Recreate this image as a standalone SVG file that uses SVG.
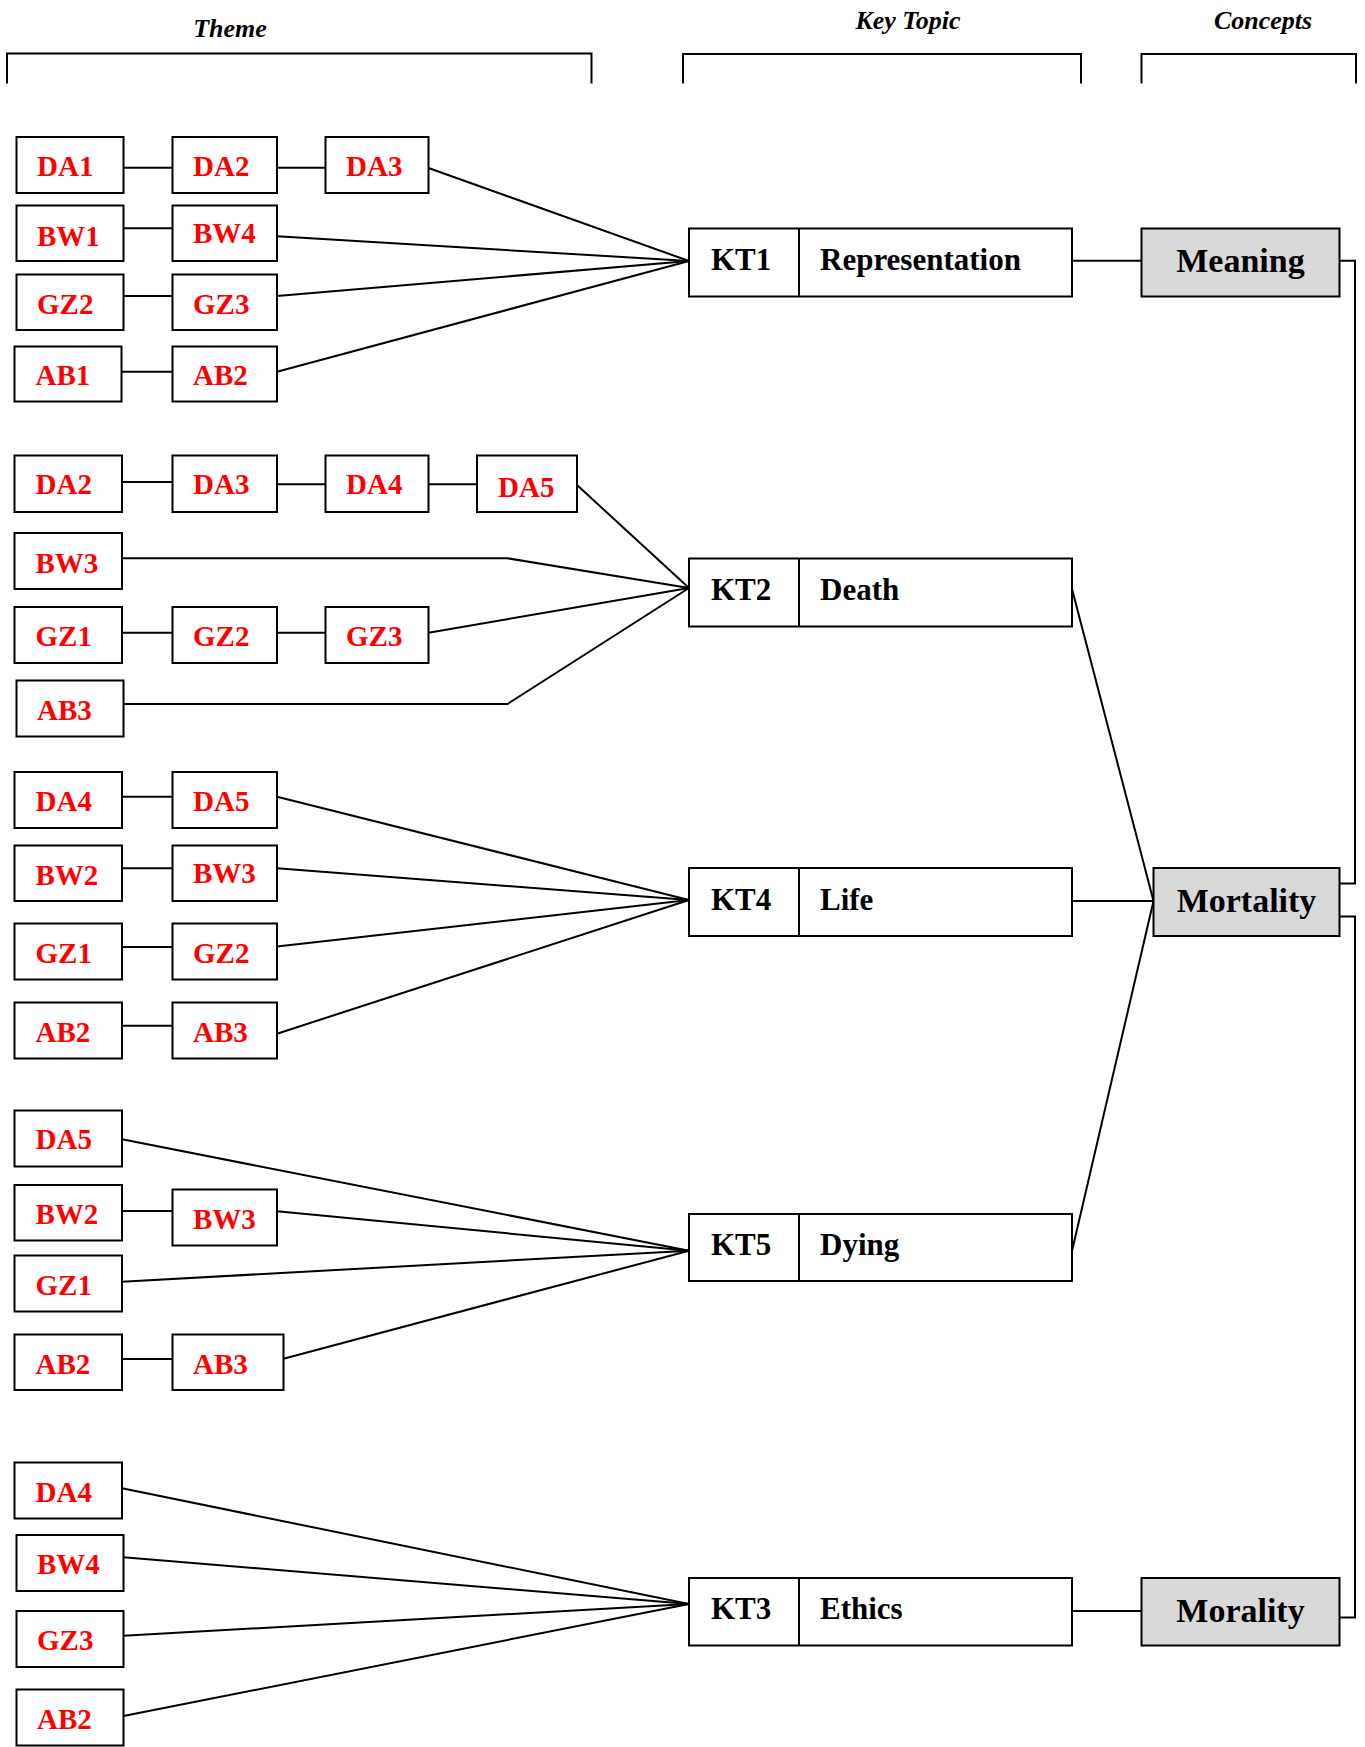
<svg xmlns="http://www.w3.org/2000/svg" width="1365" height="1747" viewBox="0 0 1365 1747">
<style>
.bg{fill:#ffffff}
.br{fill:none;stroke:#000;stroke-width:2}
.hd{font-family:"Liberation Serif","Times New Roman",serif;font-weight:bold;font-style:italic;font-size:26px;fill:#000;text-anchor:middle}
.tb rect{fill:#fff;stroke:#000;stroke-width:2}
.tb text{font-family:"Liberation Serif","Times New Roman",serif;font-weight:bold;font-size:29px;fill:#ff0000}
.kt rect{fill:#fff;stroke:#000;stroke-width:2}
.kt line{stroke:#000;stroke-width:2}
.kt text{font-family:"Liberation Serif","Times New Roman",serif;font-weight:bold;font-size:31px;fill:#000}
.cp rect{fill:#d9d9d9;stroke:#000;stroke-width:2}
.cp text{font-family:"Liberation Serif","Times New Roman",serif;font-weight:bold;font-size:34px;fill:#000;text-anchor:middle}
.cn line,.cn polyline{fill:none;stroke:#000;stroke-width:2}
</style>
<rect class="bg" x="0" y="0" width="1365" height="1747"/>

<g id="headers">
<path class="br" d="M7,83.5 V53.5 H591.5 V83.5"/>
<path class="br" d="M683,83.5 V54 H1081 V83.5"/>
<path class="br" d="M1141.5,83.5 V54 H1356 V83.5"/>
<text class="hd" x="230" y="36.5">Theme</text>
<text class="hd" x="908" y="28.5">Key Topic</text>
<text class="hd" x="1263" y="28.5">Concepts</text>
</g>

<g id="connectors" class="cn">
<!-- group KT1 -->
<line x1="123.5" y1="167.7" x2="172.5" y2="167.7"/>
<line x1="277" y1="167.7" x2="325.5" y2="167.7"/>
<line x1="428.5" y1="168" x2="689" y2="261"/>
<line x1="123.5" y1="228.3" x2="172.5" y2="228.3"/>
<line x1="277" y1="236.3" x2="689" y2="261"/>
<line x1="123.5" y1="296" x2="172.5" y2="296"/>
<line x1="277" y1="296" x2="689" y2="261"/>
<line x1="121.5" y1="371.7" x2="172.5" y2="371.7"/>
<line x1="277" y1="371.7" x2="689" y2="261"/>
<!-- group KT2 -->
<line x1="122" y1="482" x2="172.5" y2="482"/>
<line x1="277" y1="484.3" x2="325.5" y2="484.3"/>
<line x1="428.5" y1="484.3" x2="477" y2="484.3"/>
<line x1="577" y1="485" x2="689" y2="588"/>
<polyline points="122,558.3 507.5,558.3 689,588"/>
<line x1="122" y1="632.7" x2="172.5" y2="632.7"/>
<line x1="277" y1="632.7" x2="325.5" y2="632.7"/>
<line x1="428.5" y1="632.7" x2="689" y2="588"/>
<polyline points="123.5,704 507.5,704 689,588"/>
<!-- group KT4 -->
<line x1="122" y1="796.7" x2="172.5" y2="796.7"/>
<line x1="277" y1="796.7" x2="689" y2="900"/>
<line x1="122" y1="868.3" x2="172.5" y2="868.3"/>
<line x1="277" y1="868.3" x2="689" y2="900"/>
<line x1="122" y1="947" x2="172.5" y2="947"/>
<line x1="277" y1="946.5" x2="689" y2="900"/>
<line x1="122" y1="1025.7" x2="172.5" y2="1025.7"/>
<line x1="277" y1="1033.7" x2="689" y2="900"/>
<!-- group KT5 -->
<line x1="122" y1="1139.3" x2="689" y2="1250.7"/>
<line x1="122" y1="1211" x2="172.5" y2="1211"/>
<line x1="277" y1="1211.3" x2="689" y2="1250.7"/>
<line x1="122" y1="1281.7" x2="689" y2="1250.7"/>
<line x1="122" y1="1359" x2="172.5" y2="1359"/>
<line x1="283.5" y1="1358.7" x2="689" y2="1250.7"/>
<!-- group KT3 -->
<line x1="122" y1="1488.3" x2="689" y2="1604"/>
<line x1="123.5" y1="1557.3" x2="689" y2="1604"/>
<line x1="123.5" y1="1635.7" x2="689" y2="1604"/>
<line x1="123.5" y1="1716" x2="689" y2="1604"/>
<!-- key topics to concepts -->
<line x1="1072" y1="260.7" x2="1141.5" y2="260.7"/>
<line x1="1072" y1="589" x2="1153.5" y2="901"/>
<line x1="1072" y1="901" x2="1153.5" y2="901"/>
<line x1="1072" y1="1251" x2="1153.5" y2="901"/>
<line x1="1072" y1="1611" x2="1141.5" y2="1611"/>
<polyline points="1339.5,260.7 1355,260.7 1355,883.5 1339.5,883.5"/>
<polyline points="1339.5,916.5 1355,916.5 1355,1617.5 1339.5,1617.5"/>
</g>

<!-- Theme nodes: group KT1 -->
<g id="g1-DA1" class="tb"><rect x="16.5" y="137" width="107" height="56"/><text x="37" y="176">DA1</text></g>
<g id="g1-DA2" class="tb"><rect x="172.5" y="137" width="104.5" height="56"/><text x="193" y="176">DA2</text></g>
<g id="g1-DA3" class="tb"><rect x="325.5" y="137" width="103" height="56"/><text x="346" y="176">DA3</text></g>
<g id="g1-BW1" class="tb"><rect x="16.5" y="205.5" width="107" height="55.5"/><text x="37" y="246">BW1</text></g>
<g id="g1-BW4" class="tb"><rect x="172.5" y="205.5" width="104.5" height="55.5"/><text x="193" y="243">BW4</text></g>
<g id="g1-GZ2" class="tb"><rect x="16.5" y="274.5" width="107" height="55.5"/><text x="37" y="313.5">GZ2</text></g>
<g id="g1-GZ3" class="tb"><rect x="172.5" y="274.5" width="104.5" height="55.5"/><text x="193" y="313.5">GZ3</text></g>
<g id="g1-AB1" class="tb"><rect x="14.5" y="346.5" width="107" height="55"/><text x="35.5" y="385">AB1</text></g>
<g id="g1-AB2" class="tb"><rect x="172.5" y="346.5" width="104.5" height="55"/><text x="193" y="385">AB2</text></g>

<!-- group KT2 -->
<g id="g2-DA2" class="tb"><rect x="14.5" y="455.5" width="107.5" height="56.5"/><text x="35.5" y="494">DA2</text></g>
<g id="g2-DA3" class="tb"><rect x="172.5" y="455.5" width="104.5" height="56.5"/><text x="193" y="494">DA3</text></g>
<g id="g2-DA4" class="tb"><rect x="325.5" y="455.5" width="103" height="56.5"/><text x="346" y="494">DA4</text></g>
<g id="g2-DA5" class="tb"><rect x="477" y="455.5" width="100" height="56.5"/><text x="498" y="497">DA5</text></g>
<g id="g2-BW3" class="tb"><rect x="14.5" y="533" width="107.5" height="56"/><text x="35.5" y="572.5">BW3</text></g>
<g id="g2-GZ1" class="tb"><rect x="14.5" y="607" width="107.5" height="56"/><text x="35.5" y="646">GZ1</text></g>
<g id="g2-GZ2" class="tb"><rect x="172.5" y="607" width="104.5" height="56"/><text x="193" y="646">GZ2</text></g>
<g id="g2-GZ3" class="tb"><rect x="325.5" y="607" width="103" height="56"/><text x="346" y="646">GZ3</text></g>
<g id="g2-AB3" class="tb"><rect x="16.5" y="680.5" width="107" height="56"/><text x="37" y="719.5">AB3</text></g>

<!-- group KT4 -->
<g id="g3-DA4" class="tb"><rect x="14.5" y="772" width="107.5" height="56"/><text x="35.5" y="810.5">DA4</text></g>
<g id="g3-DA5" class="tb"><rect x="172.5" y="772" width="104.5" height="56"/><text x="193" y="810.5">DA5</text></g>
<g id="g3-BW2" class="tb"><rect x="14.5" y="845.5" width="107.5" height="55.5"/><text x="35.5" y="885">BW2</text></g>
<g id="g3-BW3" class="tb"><rect x="172.5" y="845.5" width="104.5" height="55.5"/><text x="193" y="883">BW3</text></g>
<g id="g3-GZ1" class="tb"><rect x="14.5" y="923.5" width="107.5" height="56"/><text x="35.5" y="962.5">GZ1</text></g>
<g id="g3-GZ2" class="tb"><rect x="172.5" y="923.5" width="104.5" height="56"/><text x="193" y="962.5">GZ2</text></g>
<g id="g3-AB2" class="tb"><rect x="14.5" y="1002.5" width="107.5" height="56"/><text x="35.5" y="1041.5">AB2</text></g>
<g id="g3-AB3" class="tb"><rect x="172.5" y="1002.5" width="104.5" height="56"/><text x="193" y="1041.5">AB3</text></g>

<!-- group KT5 -->
<g id="g4-DA5" class="tb"><rect x="14.5" y="1110.5" width="107.5" height="56"/><text x="35.5" y="1149">DA5</text></g>
<g id="g4-BW2" class="tb"><rect x="14.5" y="1185" width="107.5" height="55.5"/><text x="35.5" y="1224">BW2</text></g>
<g id="g4-BW3" class="tb"><rect x="172.5" y="1189.5" width="104.5" height="56"/><text x="193" y="1228.5">BW3</text></g>
<g id="g4-GZ1" class="tb"><rect x="14.5" y="1255.5" width="107.5" height="56"/><text x="35.5" y="1294.5">GZ1</text></g>
<g id="g4-AB2" class="tb"><rect x="14.5" y="1334.5" width="107.5" height="55.5"/><text x="35.5" y="1373.5">AB2</text></g>
<g id="g4-AB3" class="tb"><rect x="172.5" y="1334.5" width="111" height="55.5"/><text x="193" y="1373.5">AB3</text></g>

<!-- group KT3 -->
<g id="g5-DA4" class="tb"><rect x="14.5" y="1462.5" width="107.5" height="56"/><text x="35.5" y="1501.5">DA4</text></g>
<g id="g5-BW4" class="tb"><rect x="16.5" y="1535" width="107" height="56"/><text x="37" y="1574">BW4</text></g>
<g id="g5-GZ3" class="tb"><rect x="16.5" y="1611" width="107" height="56"/><text x="37" y="1650">GZ3</text></g>
<g id="g5-AB2" class="tb"><rect x="16.5" y="1689.5" width="107" height="56"/><text x="37" y="1728.5">AB2</text></g>

<!-- Key topics -->
<g id="KT1" class="kt"><rect x="689" y="228.5" width="383" height="68"/><line x1="799" y1="228.5" x2="799" y2="296.5"/><text x="711" y="270">KT1</text><text x="820" y="270">Representation</text></g>
<g id="KT2" class="kt"><rect x="689" y="558.5" width="383" height="68"/><line x1="799" y1="558.5" x2="799" y2="626.5"/><text x="711" y="600">KT2</text><text x="820" y="600">Death</text></g>
<g id="KT4" class="kt"><rect x="689" y="868" width="383" height="68"/><line x1="799" y1="868" x2="799" y2="936"/><text x="711" y="909.5">KT4</text><text x="820" y="909.5">Life</text></g>
<g id="KT5" class="kt"><rect x="689" y="1214" width="383" height="67"/><line x1="799" y1="1214" x2="799" y2="1281"/><text x="711" y="1255">KT5</text><text x="820" y="1255">Dying</text></g>
<g id="KT3" class="kt"><rect x="689" y="1578" width="383" height="67.5"/><line x1="799" y1="1578" x2="799" y2="1645.5"/><text x="711" y="1619">KT3</text><text x="820" y="1619">Ethics</text></g>

<!-- Concepts -->
<g id="Meaning" class="cp"><rect x="1141.5" y="228.5" width="198" height="68"/><text x="1240.5" y="272">Meaning</text></g>
<g id="Mortality" class="cp"><rect x="1153.5" y="868" width="186" height="68"/><text x="1246.5" y="912">Mortality</text></g>
<g id="Morality" class="cp"><rect x="1141.5" y="1578" width="198" height="67.5"/><text x="1240.5" y="1622">Morality</text></g>
</svg>
